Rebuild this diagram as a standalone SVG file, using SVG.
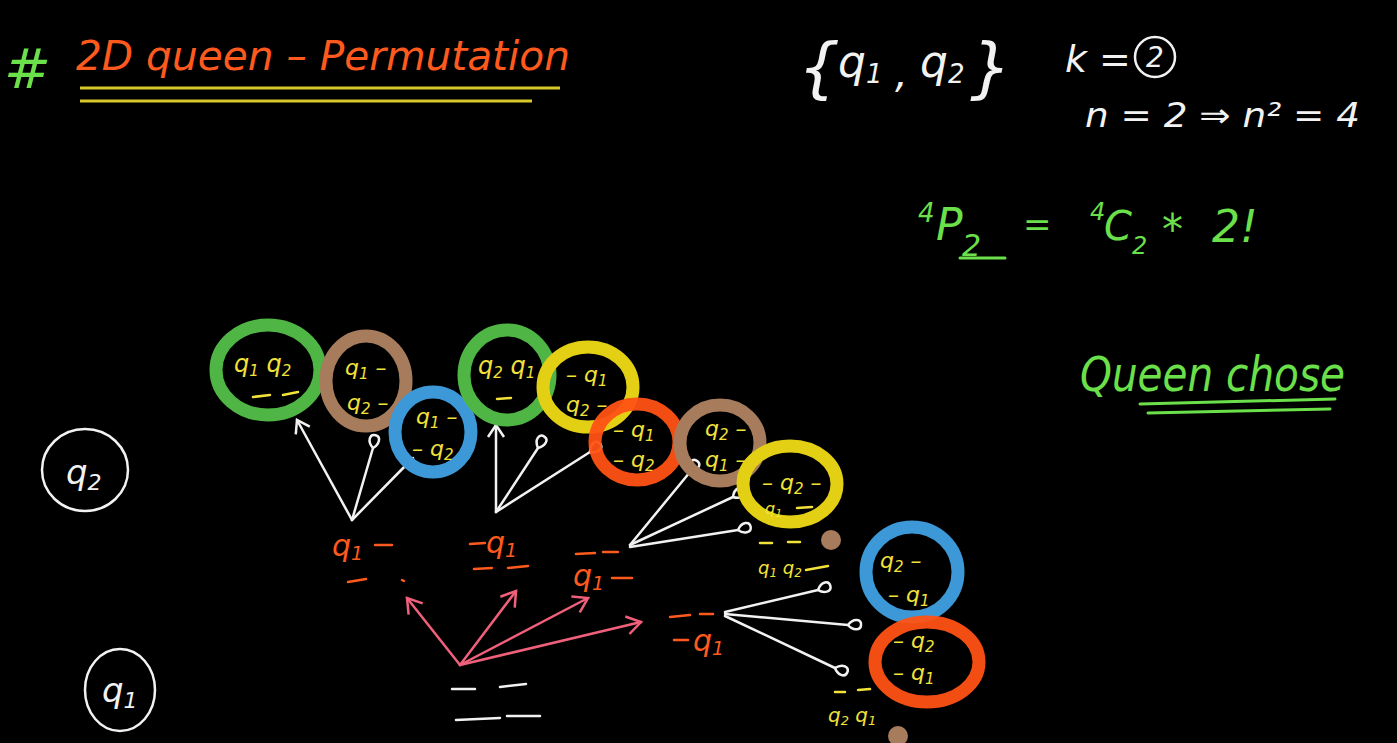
<svg xmlns="http://www.w3.org/2000/svg" width="1397" height="743" viewBox="0 0 1397 743">
<defs>
<style>
.bg{fill:#000}
.hand{font-family:"DejaVu Sans","Liberation Sans",sans-serif;font-style:italic}
.w{fill:#f2f2f2}
.g{fill:#6be04a}
.o{fill:#ff5a1e}
.y{fill:#f2e23a}
.ring{fill:none;stroke-width:13}
.wl{fill:none;stroke:#f2f2f2;stroke-width:2.5;stroke-linecap:round}
.pl{fill:none;stroke:#f0607a;stroke-width:2.5;stroke-linecap:round}
.yl{fill:none;stroke:#d8c82a;stroke-width:3}
.gl{fill:none;stroke:#6be04a;stroke-width:3;stroke-linecap:round}
.ol{fill:none;stroke:#ff5a1e;stroke-width:2.5;stroke-linecap:round}
.yd{fill:none;stroke:#f2e23a;stroke-width:2.5;stroke-linecap:round}
.lab{font-size:22px}
</style>
<marker id="loop" markerWidth="20" markerHeight="20" refX="0" refY="0" viewBox="-2 -10 20 20" orient="auto" markerUnits="userSpaceOnUse">
<path d="M0,0 C5,-8 13,-7 13,-1 C13,5 5,5 0,0" fill="none" stroke="#f2f2f2" stroke-width="2.5"/>
</marker>
<marker id="vw" markerWidth="24" markerHeight="24" refX="0" refY="0" viewBox="-14 -12 24 24" orient="auto" markerUnits="userSpaceOnUse">
<path d="M-12,-8 L0,0 L-12,8" fill="none" stroke="#f2f2f2" stroke-width="2.5"/>
</marker>
<marker id="vp" markerWidth="30" markerHeight="30" refX="0" refY="0" viewBox="-16 -14 30 30" orient="auto" markerUnits="userSpaceOnUse">
<path d="M-14,-9 L0,0 L-14,9" fill="none" stroke="#f0607a" stroke-width="2.5"/>
</marker>
</defs>
<rect class="bg" x="0" y="0" width="1397" height="743"/>

<g id="title">
<text class="hand g" x="4" y="88" font-size="56">#</text>
<text class="hand o" x="76" y="70" font-size="40" textLength="494" lengthAdjust="spacingAndGlyphs">2D queen – Permutation</text>
<line class="yl" x1="80" y1="88" x2="560" y2="88"/>
<line class="yl" x1="80" y1="101" x2="532" y2="101"/>
</g>

<g id="set-notes">
<text class="hand w" x="798" y="90" font-size="66">{</text>
<text class="hand w" x="838" y="77" font-size="44">q<tspan font-size="26" dy="6">1</tspan></text>
<text class="hand w" x="895" y="87" font-size="40">,</text>
<text class="hand w" x="920" y="77" font-size="44">q<tspan font-size="26" dy="6">2</tspan></text>
<text class="hand w" x="970" y="90" font-size="66">}</text>
<text class="hand w" x="1065" y="72" font-size="38">k =</text>
<circle cx="1155" cy="57" r="20" fill="none" stroke="#f2f2f2" stroke-width="2.5"/>
<text class="hand w" x="1146" y="67" font-size="28">2</text>
<text class="hand w" x="1085" y="127" font-size="34" textLength="275" lengthAdjust="spacingAndGlyphs">n = 2 ⇒ n² = 4</text>
</g>

<g id="formula">
<text class="hand g" x="918" y="222" font-size="26">4</text>
<text class="hand g" x="936" y="240" font-size="44">P</text>
<text class="hand g" x="962" y="256" font-size="30">2</text>
<line class="gl" x1="960" y1="258" x2="1005" y2="258"/>
<text class="hand g" x="1023" y="236" font-size="34">=</text>
<text class="hand g" x="1090" y="220" font-size="24">4</text>
<text class="hand g" x="1104" y="240" font-size="40">C</text>
<text class="hand g" x="1132" y="254" font-size="24">2</text>
<text class="hand g" x="1162" y="244" font-size="42">*</text>
<text class="hand g" x="1212" y="242" font-size="44">2!</text>
</g>

<g id="queen-chose">
<text class="hand g" x="1080" y="391" font-size="48" textLength="265" lengthAdjust="spacingAndGlyphs">Queen chose</text>
<path class="gl" d="M1140,404 L1335,399"/>
<path class="gl" d="M1148,413 L1330,409"/>
</g>

<g id="q2-label">
<ellipse cx="85" cy="470" rx="43" ry="41" fill="none" stroke="#f2f2f2" stroke-width="2.5"/>
<text class="hand w" x="66" y="484" font-size="34">q<tspan font-size="22" dy="6">2</tspan></text>
</g>
<g id="q1-label">
<ellipse cx="120" cy="690" rx="35" ry="41" fill="none" stroke="#f2f2f2" stroke-width="2.5"/>
<text class="hand w" x="102" y="702" font-size="34">q<tspan font-size="22" dy="6">1</tspan></text>
</g>

<g id="connectors">
<path class="wl" d="M352,520 L297,420" marker-end="url(#vw)"/>
<path class="wl" d="M352,520 L373,448" marker-end="url(#loop)"/>
<path class="wl" d="M352,520 L413,458"/>
<path class="wl" d="M496,512 L496,425" marker-end="url(#vw)"/>
<path class="wl" d="M496,512 L538,448" marker-end="url(#loop)"/>
<path class="wl" d="M496,512 L590,452" marker-end="url(#loop)"/>
<path class="wl" d="M630,545 L690,472" marker-end="url(#loop)"/>
<path class="wl" d="M630,545 L733,497" marker-end="url(#loop)"/>
<path class="wl" d="M630,547 L738,530" marker-end="url(#loop)"/>
<path class="wl" d="M725,612 L818,590" marker-end="url(#loop)"/>
<path class="wl" d="M725,614 L848,625" marker-end="url(#loop)"/>
<path class="wl" d="M725,616 L835,668" marker-end="url(#loop)"/>
<path class="pl" d="M460,665 L407,598" marker-end="url(#vp)"/>
<path class="pl" d="M460,665 L516,591" marker-end="url(#vp)"/>
<path class="pl" d="M460,665 L588,598" marker-end="url(#vp)"/>
<path class="pl" d="M460,665 L641,622" marker-end="url(#vp)"/>
</g>

<g id="root-board">
<path class="wl" d="M452,689 L475,689 M500,687 L526,684 M456,720 L500,718 M507,716 L540,716"/>
</g>

<g id="level1-a">
<text class="hand o" x="332" y="556" font-size="30">q<tspan font-size="19" dy="4">1</tspan></text>
<path class="ol" d="M375,545 L392,545 M348,582 L366,579 M402,580 L404,581"/>
</g>
<g id="level1-b">
<text class="hand o" x="486" y="553" font-size="30">q<tspan font-size="19" dy="4">1</tspan></text>
<path class="ol" d="M470,544 L485,543 M474,569 L492,568 M508,568 L528,566"/>
</g>
<g id="level1-c">
<text class="hand o" x="573" y="586" font-size="30">q<tspan font-size="19" dy="4">1</tspan></text>
<path class="ol" d="M576,554 L595,553 M603,552 L618,552 M612,578 L632,578"/>
</g>
<g id="level1-d">
<text class="hand o" x="693" y="651" font-size="30">q<tspan font-size="19" dy="4">1</tspan></text>
<path class="ol" d="M670,617 L690,615 M700,614 L713,614 M674,640 L688,640"/>
</g>

<g id="n-green1">
<ellipse class="ring" cx="268" cy="370" rx="52" ry="45" stroke="#4fb544"/>
<text class="hand y" x="234" y="372" font-size="24">q<tspan font-size="15" dy="4">1</tspan><tspan dy="-4"> q</tspan><tspan font-size="15" dy="4">2</tspan></text>
<path class="yd" d="M253,397 L270,395 M283,395 L298,392"/>
</g>
<g id="n-brown1">
<ellipse class="ring" cx="366" cy="381" rx="40" ry="45" stroke="#a77c5d"/>
<text class="hand y lab" x="345" y="375">q<tspan font-size="15" dy="4">1</tspan><tspan dy="-4"> –</tspan></text>
<text class="hand y lab" x="347" y="410">q<tspan font-size="15" dy="4">2</tspan><tspan dy="-4"> –</tspan></text>
</g>
<g id="n-blue1">
<ellipse class="ring" cx="433" cy="432" rx="38" ry="40" stroke="#3d98d8"/>
<text class="hand y lab" x="416" y="424">q<tspan font-size="15" dy="4">1</tspan><tspan dy="-4"> –</tspan></text>
<text class="hand y lab" x="412" y="456">– q<tspan font-size="15" dy="4">2</tspan></text>
</g>
<g id="n-green2">
<ellipse class="ring" cx="507" cy="375" rx="43" ry="45" stroke="#4fb544"/>
<text class="hand y" x="478" y="374" font-size="24">q<tspan font-size="15" dy="4">2</tspan><tspan dy="-4"> q</tspan><tspan font-size="15" dy="4">1</tspan></text>
<path class="yd" d="M497,399 L511,398"/>
</g>
<g id="n-yellow1">
<ellipse class="ring" cx="588" cy="387" rx="45" ry="40" stroke="#e3cf14"/>
<text class="hand y lab" x="566" y="382">– q<tspan font-size="15" dy="4">1</tspan></text>
<text class="hand y lab" x="566" y="412">q<tspan font-size="15" dy="4">2</tspan><tspan dy="-4"> –</tspan></text>
</g>
<g id="n-orange1">
<ellipse class="ring" cx="637" cy="442" rx="42" ry="38" stroke="#ff5214" stroke-opacity="0.95"/>
<text class="hand y lab" x="613" y="437">– q<tspan font-size="15" dy="4">1</tspan></text>
<text class="hand y lab" x="613" y="467">– q<tspan font-size="15" dy="4">2</tspan></text>
</g>
<g id="n-brown2">
<ellipse class="ring" cx="720" cy="443" rx="40" ry="38" stroke="#a77c5d"/>
<text class="hand y lab" x="705" y="436">q<tspan font-size="15" dy="4">2</tspan><tspan dy="-4"> –</tspan></text>
<text class="hand y lab" x="705" y="467">q<tspan font-size="15" dy="4">1</tspan><tspan dy="-4"> –</tspan></text>
</g>
<g id="n-yellow2">
<ellipse class="ring" cx="790" cy="484" rx="47" ry="38" stroke="#e3cf14"/>
<text class="hand y lab" x="762" y="490">– q<tspan font-size="15" dy="4">2</tspan><tspan dy="-4"> –</tspan></text>
<text class="hand y" x="765" y="514" font-size="16">q<tspan font-size="11" dy="3">1</tspan></text>
<path class="yd" d="M797,508 L812,507"/>
</g>
<g id="n-brown-dot1">
<circle cx="831" cy="540" r="10" fill="#a77c5d"/>
</g>
<g id="n-label-q1q2">
<path class="yd" d="M760,543 L772,543 M788,542 L800,542"/>
<text class="hand y" x="758" y="574" font-size="18">q<tspan font-size="12" dy="3">1</tspan><tspan dy="-3"> q</tspan><tspan font-size="12" dy="3">2</tspan></text>
<path class="yd" d="M806,570 L828,566"/>
</g>
<g id="n-blue2">
<ellipse class="ring" cx="912" cy="572" rx="46" ry="45" stroke="#3d98d8"/>
<text class="hand y lab" x="880" y="568">q<tspan font-size="15" dy="4">2</tspan><tspan dy="-4"> –</tspan></text>
<text class="hand y lab" x="888" y="602">– q<tspan font-size="15" dy="4">1</tspan></text>
</g>
<g id="n-orange2">
<ellipse class="ring" cx="927" cy="662" rx="52" ry="40" stroke="#ff5214" stroke-opacity="0.95"/>
<text class="hand y lab" x="893" y="648">– q<tspan font-size="15" dy="4">2</tspan></text>
<text class="hand y lab" x="893" y="680">– q<tspan font-size="15" dy="4">1</tspan></text>
</g>
<g id="n-label-q2q1">
<path class="yd" d="M835,692 L845,692 M858,690 L870,689"/>
<text class="hand y" x="828" y="722" font-size="20">q<tspan font-size="13" dy="3">2</tspan><tspan dy="-3"> q</tspan><tspan font-size="13" dy="3">1</tspan></text>
</g>
<g id="n-brown-dot2">
<circle cx="898" cy="736" r="10" fill="#a77c5d"/>
</g>
</svg>
